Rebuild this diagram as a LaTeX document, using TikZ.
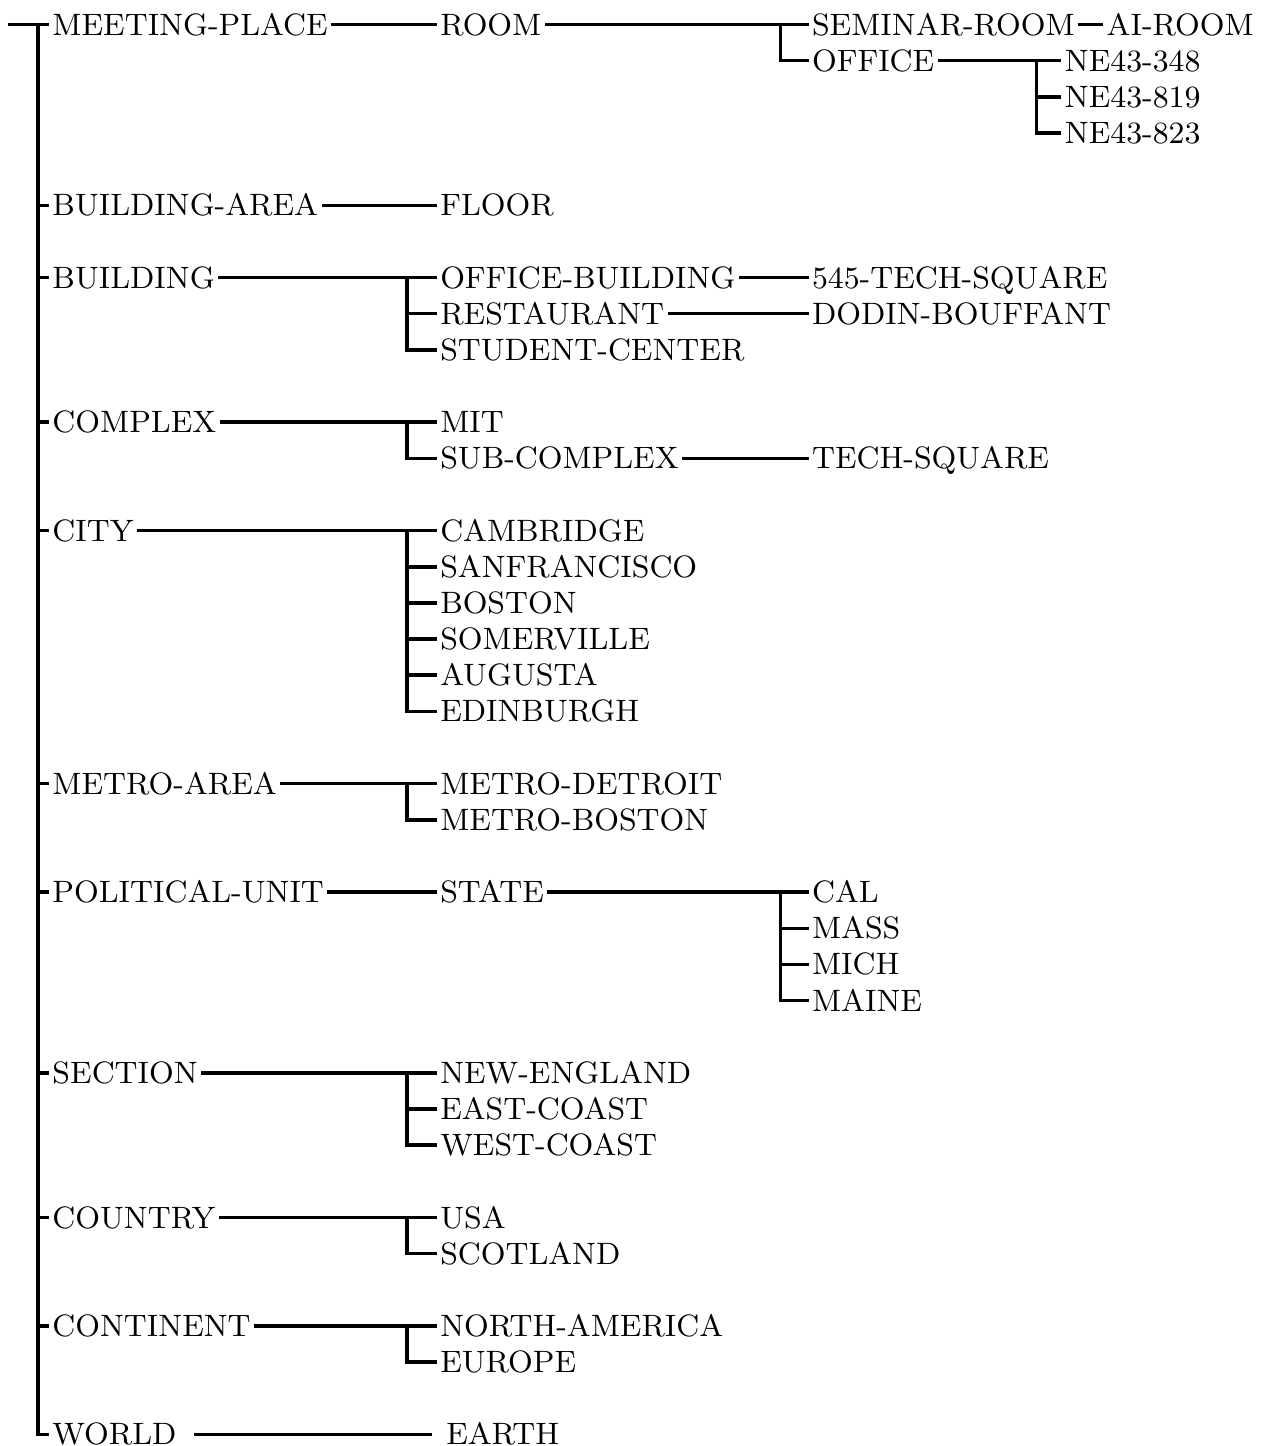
\documentclass[tikz,border=0pt]{standalone}
\usepackage{fontspec}
\usetikzlibrary{positioning}
\tikzset{
  item/.style={anchor=west, inner xsep=0.8pt, inner ysep=0pt, text height=6pt, text depth=0pt,
    font=\fontsize{8.8}{10}\selectfont},
  link/.style={line width=1pt},
}

\begin{document}
\begin{tikzpicture}[x=0.01cm, y=-0.3615cm, node distance=0.25cm]
  \useasboundingbox (0,-0.678) rectangle (1261,39.322);

  % first column
  \node[item] (mp)    at (49,0)  {MEETING-PLACE};
  \node[item] (barea) at (49,5)  {BUILDING-AREA};
  \node[item] (bldg)  at (49,7)  {BUILDING};
  \node[item] (cplx)  at (49,11) {COMPLEX};
  \node[item] (city)  at (49,14) {CITY};
  \node[item] (metro) at (49,21) {METRO-AREA};
  \node[item] (pol)   at (49,24) {POLITICAL-UNIT};
  \node[item] (sect)  at (49,29) {SECTION};
  \node[item] (ctry)  at (49,33) {COUNTRY};
  \node[item] (cont)  at (49,36) {CONTINENT};
  \node[item] (world) at (49,39) {WORLD};

  % second column
  \node[item] (room)  at (437,0)  {ROOM};
  \node[item] (floor) at (437,5)  {FLOOR};
  \node[item] (offb)  at (437,7)  {OFFICE-BUILDING};
  \node[item] (rest)  at (437,8)  {RESTAURANT};
  \node[item] (stud)  at (437,9)  {STUDENT-CENTER};
  \node[item] (mit)   at (437,11) {MIT};
  \node[item] (subc)  at (437,12) {SUB-COMPLEX};
  \node[item] (camb)  at (437,14) {CAMBRIDGE};
  \node[item] (sanf)  at (437,15) {SANFRANCISCO};
  \node[item] (bost)  at (437,16) {BOSTON};
  \node[item] (somv)  at (437,17) {SOMERVILLE};
  \node[item] (aug)   at (437,18) {AUGUSTA};
  \node[item] (edin)  at (437,19) {EDINBURGH};
  \node[item] (mdet)  at (437,21) {METRO-DETROIT};
  \node[item] (mbos)  at (437,22) {METRO-BOSTON};
  \node[item] (state) at (437,24) {STATE};
  \node[item] (neng)  at (437,29) {NEW-ENGLAND};
  \node[item] (eastc) at (437,30) {EAST-COAST};
  \node[item] (westc) at (437,31) {WEST-COAST};
  \node[item] (usa)   at (437,33) {USA};
  \node[item] (scot)  at (437,34) {SCOTLAND};
  \node[item] (namer) at (437,36) {NORTH-AMERICA};
  \node[item] (eur)   at (437,37) {EUROPE};
  \node[item] (earth) at (443,39) {EARTH};

  % third and fourth column
  \node[item] (seminar) at (809,0)  {SEMINAR-ROOM};
  \node[item] (airoom)  [right=of seminar] {AI-ROOM};
  \node[item] (office)  at (809,1)  {OFFICE};
  \node[item] (tsq545)  at (809,7)  {545-TECH-SQUARE};
  \node[item] (dodin)   at (809,8)  {DODIN-BOUFFANT};
  \node[item] (techsq)  at (809,12) {TECH-SQUARE};
  \node[item] (cal)     at (809,24) {CAL};
  \node[item] (mass)    at (809,25) {MASS};
  \node[item] (mich)    at (809,26) {MICH};
  \node[item] (maine)   at (809,27) {MAINE};
  \node[item] (ne348)   at (1062,1) {NE43-348};
  \node[item] (ne819)   at (1062,2) {NE43-819};
  \node[item] (ne823)   at (1062,3) {NE43-823};

  % trunk
  \coordinate (stub)  at (8,0);
  \coordinate (trunk) at (38,0);
  \draw[link] (stub) -- (mp.west);
  \draw[link] (trunk) |- (world.west);
  \foreach \n in {barea,bldg,cplx,city,metro,pol,sect,ctry,cont}
    \draw[link] (trunk |- \n.west) -- (\n.west);

  % straight links
  \foreach \a/\b in {mp/room, barea/floor, pol/state, offb/tsq545, rest/dodin,
      subc/techsq, seminar/airoom, room/seminar, office/ne348, bldg/offb,
      cplx/mit, city/camb, metro/mdet, state/cal, sect/neng, ctry/usa, cont/namer}
    \draw[link] (\a.east) -- (\b.west);
  \draw[link, shorten <=4pt, shorten >=3pt] (world.east) -- (earth.west);

  % brackets
  \foreach \top/\last/\t in {offb/stud/0.3, mit/subc/0.3, camb/edin/0.3, mdet/mbos/0.3,
      neng/westc/0.3, usa/scot/0.3, namer/eur/0.3, seminar/office/0.28,
      cal/maine/0.28, ne348/ne823/0.25}
    \draw[link] ([xshift=-\t cm]\top.west) |- (\last.west);
  \foreach \n/\t in {rest/0.3, sanf/0.3, bost/0.3, somv/0.3, aug/0.3, eastc/0.3,
      mass/0.28, mich/0.28, ne819/0.25}
    \draw[link] (\n.west) -- ++(-\t cm,0);
\end{tikzpicture}
\end{document}
